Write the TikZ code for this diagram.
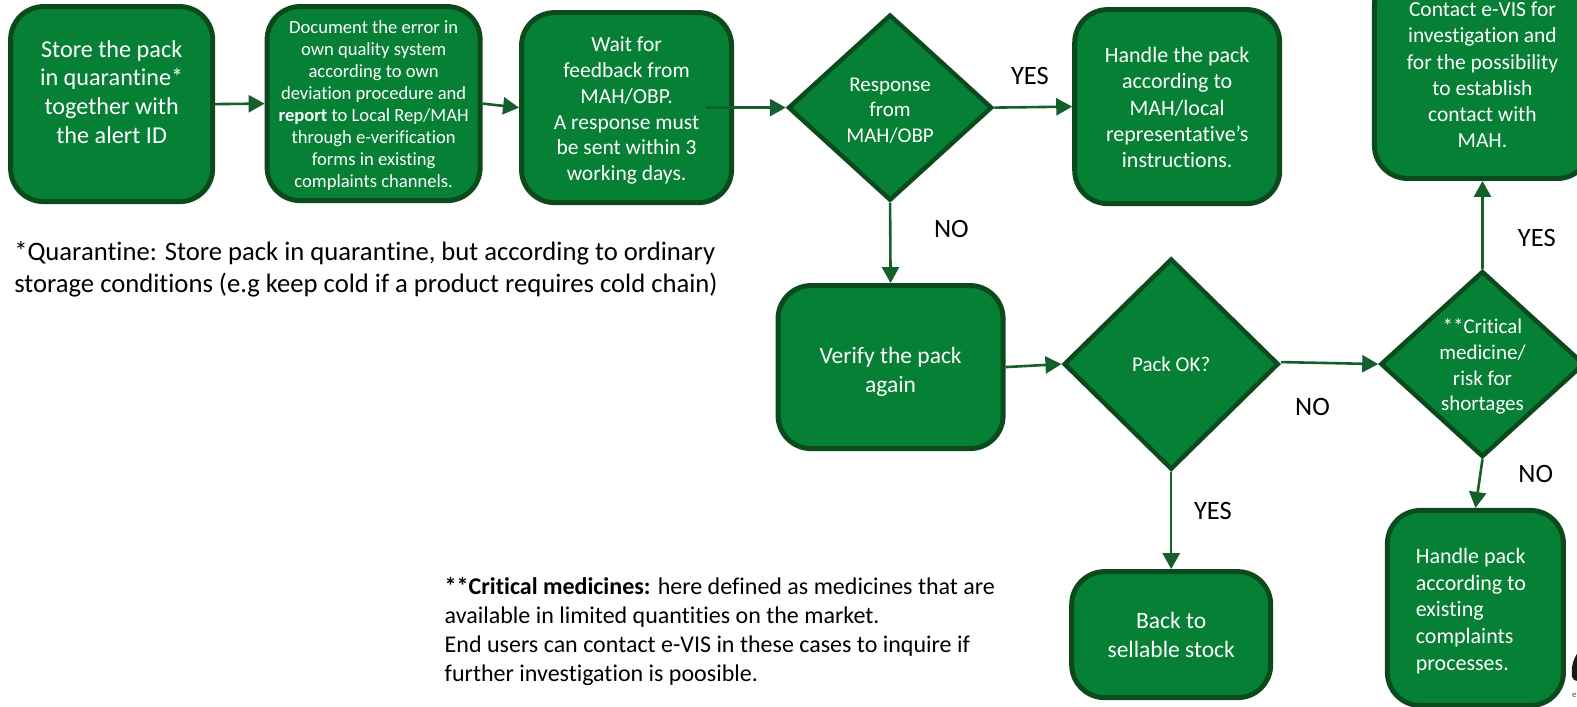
\documentclass[tikz,border=0pt]{standalone}
\usepackage{fontspec}
\setmainfont[Ligatures=NoCommon]{Carlito}
\usetikzlibrary{shapes.geometric,arrows.meta}
\definecolor{boxfill}{HTML}{068034}
\definecolor{boxline}{HTML}{0B4A1C}
\definecolor{arrowc}{HTML}{155F2D}
\newcommand{\fs}[2]{\fontsize{#1}{#2}\selectfont}
\tikzset{
  base/.style={fill=boxfill,draw=boxline,line width=5pt,text=white,align=center,inner sep=0pt},
  pill/.style={base,rectangle,rounded corners=33pt},
  dia/.style={base,diamond,line width=4.5pt},
  txt/.style={text=white,align=center,inner sep=0pt},
  flow/.style={draw=arrowc,line width=2.6pt,-{Triangle[length=16pt,width=17pt]},shorten >=0pt},
  lab/.style={text=black,font=\fs{26.5}{30},inner sep=0pt},
  note/.style={text=black,align=left,inner sep=0pt,anchor=west}
}
\begin{document}
\begin{tikzpicture}[x=1.0057pt,y=-1.0057pt]
\useasboundingbox (0,0) rectangle (1568,702);
\fill[white] (0,0) rectangle (1568,702);
% boxes
\node[pill,minimum width=202pt,minimum height=195pt] (A) at (111,103.5) {};
\node[txt,font=\fs{24.2}{28.7}] (At) at (111,91.5) {Store the pack\\in quarantine*\\together with\\the alert ID};
\node[pill,minimum width=213pt,minimum height=194pt] (B) at (371.5,103) {};
\node[txt,font=\fs{18.6}{22.1}] (Bt) at (371.5,105) {Document the error in\\own quality system\\according to own\\deviation procedure and\\\textbf{report} to Local Rep/MAH\\through e-verification\\forms in existing\\complaints channels.};
\node[pill,minimum width=210pt,minimum height=190pt] (C) at (623,107) {};
\node[txt,font=\fs{21.5}{25.7}] (Ct) at (623,110) {Wait for\\feedback from\\MAH/OBP.\\A response must\\be sent within 3\\working days.};
\node[dia,minimum width=204pt,minimum height=186pt,shape aspect=1.1] (D) at (885,107) {};
\node[txt,font=\fs{21}{25.6}] (Dt) at (885,110) {Response\\from\\MAH/OBP};
\node[pill,minimum width=205pt,minimum height=194pt] (E) at (1170.5,106) {};
\node[txt,font=\fs{22}{26.2}] (Et) at (1170.5,107) {Handle the pack\\according to\\MAH/local\\representative's\\instructions.};
\node[pill,minimum width=216pt,minimum height=207pt,font=\fs{21.5}{26.2}] (F) at (1474,74.5) {Contact e-VIS for\\investigation and\\for the possibility\\to establish\\contact with\\MAH.};
\node[pill,minimum width=225pt,minimum height=163pt] (G) at (885.5,365) {};
\node[txt,font=\fs{23.5}{28.5}] (Gt) at (885.5,369.5) {Verify the pack\\again};
\node[dia,minimum width=215pt,minimum height=211pt,shape aspect=1.02,font=\fs{21}{25}] (H) at (1164.5,362) {Pack OK?};
\node[dia,minimum width=204pt,minimum height=186pt,shape aspect=1.1] (I) at (1474,362) {};
\node[txt,font=\fs{21}{25.6}] (It) at (1474,364.5) {**Critical\\medicine/\\risk for\\shortages};
\node[pill,minimum width=199pt,minimum height=126pt,font=\fs{23.5}{28.6}] (J) at (1164.5,631) {Back to\\sellable stock};
\node[pill,minimum width=176pt,minimum height=195pt] (K) at (1467,604.5) {};
\node[txt,align=left,anchor=west,font=\fs{22}{26.6}] (Kt) at (1407.5,607.5) {Handle pack\\according to\\existing\\complaints\\processes.};
% connectors
\draw[flow] (A.east) -- (B.west);
\draw[flow] (B.east) -- (C.west);
\draw[flow] ([xshift=-28pt]C.east) -- (D.west);
\draw[flow] (D.east) -- (E.west);
\draw[flow] (D.south) -- (G.north);
\draw[flow] (G.east) -- (H.west);
\draw[flow] ([yshift=2pt]H.east) -- (I.west);
\draw[flow] (H.south) -- (J.north);
\draw[flow] (I.north) -- (F.south);
\draw[flow] (I.south) -- (K.north);
% labels
\node[lab] (l1) at (1024,76) {YES};
\node[lab] (l2) at (946,228) {NO};
\node[lab] (l3) at (1305,405) {NO};
\node[lab] (l4) at (1206,508) {YES};
\node[lab] (l5) at (1528,237) {YES};
\node[lab] (l6) at (1527,471) {NO};
% notes
\node[note,font=\fs{26.65}{32}] (n1) at (14,268) {*Quarantine: Store pack in quarantine, but according to ordinary\\storage conditions (e.g keep cold if a product requires cold chain)};
\node[note,font=\fs{24}{29.0}] (n2) at (442,627.5) {\textbf{**Critical medicines:} here defined as medicines that are\\available in limited quantities on the market.\\End users can contact e-VIS in these cases to inquire if\\further investigation is poosible.};
% logo fragment
\fill[black!90] (1568,650) .. controls (1564,656) and (1562,664) .. (1563,673) .. controls (1564,676) and (1566,677) .. (1568,677) -- cycle;
\node[text=black!70,inner sep=0pt,anchor=west,font=\fs{9}{10}] (logo) at (1563,691) {e};
\end{tikzpicture}
\end{document}
